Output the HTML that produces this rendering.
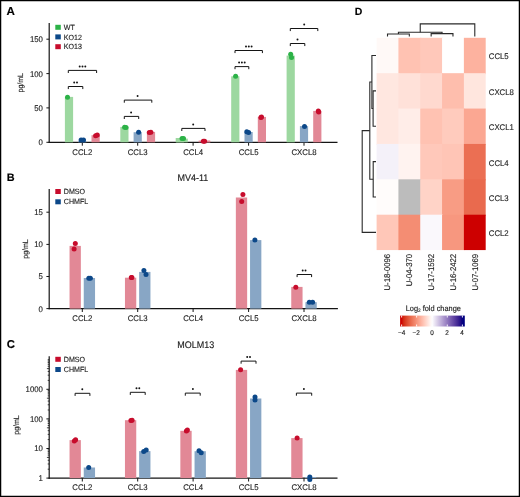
<!DOCTYPE html>
<html><head><meta charset="utf-8"><style>
html,body{margin:0;padding:0;background:#fff;}
body{width:520px;height:497px;overflow:hidden;font-family:"Liberation Sans", sans-serif;}
svg{display:block;will-change:transform;}
</style></head><body>
<svg width="520" height="497" viewBox="0 0 520 497" text-rendering="geometricPrecision" font-family='"Liberation Sans", sans-serif'>
<rect x="0.00" y="0.00" width="520.00" height="497.00" fill="#fff" />
<text transform="translate(6.60,14.80) scale(1.0000,1)" font-size="11.590" text-anchor="start" font-weight="bold" fill="#000" stroke="#000" stroke-width="0.14" >A</text>
<line x1="49.20" y1="23.00" x2="49.20" y2="142.90" stroke="#141414" stroke-width="1.2" />
<line x1="48.60" y1="142.30" x2="337.50" y2="142.30" stroke="#141414" stroke-width="1.3" />
<line x1="46.40" y1="142.30" x2="49.20" y2="142.30" stroke="#141414" stroke-width="1" />
<text transform="translate(42.90,145.26) scale(0.9434,1)" font-size="8.268" text-anchor="end" font-weight="normal" fill="#222" stroke="#222" stroke-width="0.14" >0</text>
<line x1="46.40" y1="107.90" x2="49.20" y2="107.90" stroke="#141414" stroke-width="1" />
<text transform="translate(42.90,110.86) scale(0.9434,1)" font-size="8.268" text-anchor="end" font-weight="normal" fill="#222" stroke="#222" stroke-width="0.14" >50</text>
<line x1="46.40" y1="73.60" x2="49.20" y2="73.60" stroke="#141414" stroke-width="1" />
<text transform="translate(42.90,76.56) scale(0.9434,1)" font-size="8.268" text-anchor="end" font-weight="normal" fill="#222" stroke="#222" stroke-width="0.14" >100</text>
<line x1="46.40" y1="39.20" x2="49.20" y2="39.20" stroke="#141414" stroke-width="1" />
<text transform="translate(42.90,42.16) scale(0.9434,1)" font-size="8.268" text-anchor="end" font-weight="normal" fill="#222" stroke="#222" stroke-width="0.14" >150</text>
<line x1="82.30" y1="142.30" x2="82.30" y2="145.70" stroke="#141414" stroke-width="1.0" />
<text transform="translate(82.30,154.66) scale(0.9434,1)" font-size="8.268" text-anchor="middle" font-weight="normal" fill="#222" stroke="#222" stroke-width="0.14" >CCL2</text>
<line x1="137.70" y1="142.30" x2="137.70" y2="145.70" stroke="#141414" stroke-width="1.0" />
<text transform="translate(137.70,154.66) scale(0.9434,1)" font-size="8.268" text-anchor="middle" font-weight="normal" fill="#222" stroke="#222" stroke-width="0.14" >CCL3</text>
<line x1="193.10" y1="142.30" x2="193.10" y2="145.70" stroke="#141414" stroke-width="1.0" />
<text transform="translate(193.10,154.66) scale(0.9434,1)" font-size="8.268" text-anchor="middle" font-weight="normal" fill="#222" stroke="#222" stroke-width="0.14" >CCL4</text>
<line x1="248.60" y1="142.30" x2="248.60" y2="145.70" stroke="#141414" stroke-width="1.0" />
<text transform="translate(248.60,154.66) scale(0.9434,1)" font-size="8.268" text-anchor="middle" font-weight="normal" fill="#222" stroke="#222" stroke-width="0.14" >CCL5</text>
<line x1="304.00" y1="142.30" x2="304.00" y2="145.70" stroke="#141414" stroke-width="1.0" />
<text transform="translate(304.00,154.66) scale(0.9434,1)" font-size="8.268" text-anchor="middle" font-weight="normal" fill="#222" stroke="#222" stroke-width="0.14" >CXCL8</text>
<text transform="translate(22.90,82.70) rotate(-90) scale(0.9091,1)" x="0" y="0" font-size="7.700" text-anchor="middle" fill="#222" stroke="#222" stroke-width="0.14">pg/mL</text>
<rect x="55.30" y="24.80" width="5.50" height="5.00" fill="#2cb247" />
<text transform="translate(63.80,29.99) scale(0.9434,1)" font-size="7.526" text-anchor="start" font-weight="normal" fill="#222" stroke="#222" stroke-width="0.14" >WT</text>
<rect x="55.30" y="34.40" width="5.50" height="5.00" fill="#0c4889" />
<text transform="translate(63.80,39.59) scale(0.9434,1)" font-size="7.526" text-anchor="start" font-weight="normal" fill="#222" stroke="#222" stroke-width="0.14" >KO12</text>
<rect x="55.30" y="44.20" width="5.50" height="5.00" fill="#c70c2c" />
<text transform="translate(63.80,49.39) scale(0.9434,1)" font-size="7.526" text-anchor="start" font-weight="normal" fill="#222" stroke="#222" stroke-width="0.14" >KO13</text>
<rect x="64.90" y="96.90" width="8.20" height="45.40" fill="#9dd8a0" />
<rect x="78.20" y="141.00" width="8.20" height="1.30" fill="#88a6c5" />
<rect x="91.50" y="135.20" width="8.20" height="7.10" fill="#e28896" />
<rect x="120.30" y="126.90" width="8.20" height="15.40" fill="#9dd8a0" />
<rect x="133.60" y="132.20" width="8.20" height="10.10" fill="#88a6c5" />
<rect x="146.90" y="131.90" width="8.20" height="10.40" fill="#e28896" />
<rect x="175.70" y="138.00" width="8.20" height="4.30" fill="#9dd8a0" />
<rect x="202.30" y="140.80" width="8.20" height="1.50" fill="#e28896" />
<rect x="231.20" y="76.30" width="8.20" height="66.00" fill="#9dd8a0" />
<rect x="244.50" y="132.00" width="8.20" height="10.30" fill="#88a6c5" />
<rect x="257.80" y="116.90" width="8.20" height="25.40" fill="#e28896" />
<rect x="286.60" y="55.60" width="8.20" height="86.70" fill="#9dd8a0" />
<rect x="299.90" y="126.10" width="8.20" height="16.20" fill="#88a6c5" />
<rect x="313.20" y="110.90" width="8.20" height="31.40" fill="#e28896" />
<rect x="176.20" y="138.60" width="11.60" height="3.70" fill="#9dd8a0" />
<rect x="198.60" y="140.60" width="11.40" height="1.70" fill="#e28896" />
<circle cx="67.50" cy="97.20" r="2.5" fill="#2cb247"/>
<circle cx="81.10" cy="140.00" r="2.5" fill="#0c4889"/>
<circle cx="83.50" cy="140.00" r="2.5" fill="#0c4889"/>
<circle cx="95.60" cy="135.70" r="2.5" fill="#c70c2c"/>
<circle cx="97.30" cy="134.90" r="2.5" fill="#c70c2c"/>
<circle cx="124.60" cy="127.30" r="2.5" fill="#2cb247"/>
<circle cx="126.00" cy="127.40" r="2.5" fill="#2cb247"/>
<circle cx="138.60" cy="132.30" r="2.5" fill="#0c4889"/>
<circle cx="149.30" cy="132.40" r="2.5" fill="#c70c2c"/>
<circle cx="150.90" cy="132.20" r="2.5" fill="#c70c2c"/>
<circle cx="182.00" cy="138.50" r="2.5" fill="#2cb247"/>
<circle cx="183.50" cy="138.50" r="2.5" fill="#2cb247"/>
<circle cx="203.30" cy="141.30" r="2.5" fill="#c70c2c"/>
<circle cx="204.60" cy="141.30" r="2.5" fill="#c70c2c"/>
<circle cx="235.60" cy="76.30" r="2.5" fill="#2cb247"/>
<circle cx="246.80" cy="131.80" r="2.5" fill="#0c4889"/>
<circle cx="248.60" cy="132.40" r="2.5" fill="#0c4889"/>
<circle cx="260.90" cy="117.40" r="2.5" fill="#c70c2c"/>
<circle cx="261.50" cy="117.10" r="2.5" fill="#c70c2c"/>
<circle cx="290.70" cy="54.30" r="2.5" fill="#2cb247"/>
<circle cx="291.50" cy="57.60" r="2.5" fill="#2cb247"/>
<circle cx="304.50" cy="126.50" r="2.5" fill="#0c4889"/>
<circle cx="318.30" cy="111.10" r="2.5" fill="#c70c2c"/>
<circle cx="318.70" cy="112.10" r="2.5" fill="#c70c2c"/>
<path d="M68.30,88.70 V86.50 H82.80 V88.70" fill="none" stroke="#141414" stroke-width="1" stroke-linejoin="round" stroke-linecap="round"/>
<circle cx="74.20" cy="82.50" r="0.98" fill="#141414"/>
<circle cx="77.00" cy="82.50" r="0.98" fill="#141414"/>
<path d="M68.30,72.60 V70.40 H96.60 V72.60" fill="none" stroke="#141414" stroke-width="1" stroke-linejoin="round" stroke-linecap="round"/>
<circle cx="79.70" cy="66.40" r="0.98" fill="#141414"/>
<circle cx="82.50" cy="66.40" r="0.98" fill="#141414"/>
<circle cx="85.30" cy="66.40" r="0.98" fill="#141414"/>
<path d="M124.30,118.60 V116.40 H138.70 V118.60" fill="none" stroke="#141414" stroke-width="1" stroke-linejoin="round" stroke-linecap="round"/>
<circle cx="131.10" cy="112.40" r="0.98" fill="#141414"/>
<path d="M124.30,102.30 V100.10 H151.80 V102.30" fill="none" stroke="#141414" stroke-width="1" stroke-linejoin="round" stroke-linecap="round"/>
<circle cx="137.60" cy="96.10" r="0.98" fill="#141414"/>
<path d="M181.80,130.60 V128.40 H205.00 V130.60" fill="none" stroke="#141414" stroke-width="1" stroke-linejoin="round" stroke-linecap="round"/>
<circle cx="193.20" cy="124.40" r="0.98" fill="#141414"/>
<path d="M235.00,68.80 V66.60 H248.80 V68.80" fill="none" stroke="#141414" stroke-width="1" stroke-linejoin="round" stroke-linecap="round"/>
<circle cx="239.10" cy="62.60" r="0.98" fill="#141414"/>
<circle cx="241.90" cy="62.60" r="0.98" fill="#141414"/>
<circle cx="244.70" cy="62.60" r="0.98" fill="#141414"/>
<path d="M235.00,52.70 V50.50 H262.40 V52.70" fill="none" stroke="#141414" stroke-width="1" stroke-linejoin="round" stroke-linecap="round"/>
<circle cx="246.00" cy="46.50" r="0.98" fill="#141414"/>
<circle cx="248.80" cy="46.50" r="0.98" fill="#141414"/>
<circle cx="251.60" cy="46.50" r="0.98" fill="#141414"/>
<path d="M290.30,45.70 V43.50 H304.80 V45.70" fill="none" stroke="#141414" stroke-width="1" stroke-linejoin="round" stroke-linecap="round"/>
<circle cx="297.50" cy="39.50" r="0.98" fill="#141414"/>
<path d="M290.30,30.70 V28.50 H317.80 V30.70" fill="none" stroke="#141414" stroke-width="1" stroke-linejoin="round" stroke-linecap="round"/>
<circle cx="304.20" cy="24.50" r="0.98" fill="#141414"/>
<text transform="translate(6.80,181.00) scale(1.0000,1)" font-size="10.890" text-anchor="start" font-weight="bold" fill="#000" stroke="#000" stroke-width="0.14" >B</text>
<line x1="49.20" y1="189.10" x2="49.20" y2="309.20" stroke="#141414" stroke-width="1.2" />
<line x1="48.60" y1="308.60" x2="337.90" y2="308.60" stroke="#141414" stroke-width="1.3" />
<line x1="46.40" y1="308.60" x2="49.20" y2="308.60" stroke="#141414" stroke-width="1" />
<text transform="translate(42.90,311.56) scale(0.9434,1)" font-size="8.268" text-anchor="end" font-weight="normal" fill="#222" stroke="#222" stroke-width="0.14" >0</text>
<line x1="46.40" y1="276.50" x2="49.20" y2="276.50" stroke="#141414" stroke-width="1" />
<text transform="translate(42.90,279.46) scale(0.9434,1)" font-size="8.268" text-anchor="end" font-weight="normal" fill="#222" stroke="#222" stroke-width="0.14" >5</text>
<line x1="46.40" y1="244.40" x2="49.20" y2="244.40" stroke="#141414" stroke-width="1" />
<text transform="translate(42.90,247.36) scale(0.9434,1)" font-size="8.268" text-anchor="end" font-weight="normal" fill="#222" stroke="#222" stroke-width="0.14" >10</text>
<line x1="46.40" y1="212.20" x2="49.20" y2="212.20" stroke="#141414" stroke-width="1" />
<text transform="translate(42.90,215.16) scale(0.9434,1)" font-size="8.268" text-anchor="end" font-weight="normal" fill="#222" stroke="#222" stroke-width="0.14" >15</text>
<line x1="82.30" y1="308.60" x2="82.30" y2="312.00" stroke="#141414" stroke-width="1.0" />
<text transform="translate(82.30,320.96) scale(0.9434,1)" font-size="8.268" text-anchor="middle" font-weight="normal" fill="#222" stroke="#222" stroke-width="0.14" >CCL2</text>
<line x1="137.70" y1="308.60" x2="137.70" y2="312.00" stroke="#141414" stroke-width="1.0" />
<text transform="translate(137.70,320.96) scale(0.9434,1)" font-size="8.268" text-anchor="middle" font-weight="normal" fill="#222" stroke="#222" stroke-width="0.14" >CCL3</text>
<line x1="193.10" y1="308.60" x2="193.10" y2="312.00" stroke="#141414" stroke-width="1.0" />
<text transform="translate(193.10,320.96) scale(0.9434,1)" font-size="8.268" text-anchor="middle" font-weight="normal" fill="#222" stroke="#222" stroke-width="0.14" >CCL4</text>
<line x1="248.60" y1="308.60" x2="248.60" y2="312.00" stroke="#141414" stroke-width="1.0" />
<text transform="translate(248.60,320.96) scale(0.9434,1)" font-size="8.268" text-anchor="middle" font-weight="normal" fill="#222" stroke="#222" stroke-width="0.14" >CCL5</text>
<line x1="304.00" y1="308.60" x2="304.00" y2="312.00" stroke="#141414" stroke-width="1.0" />
<text transform="translate(304.00,320.96) scale(0.9434,1)" font-size="8.268" text-anchor="middle" font-weight="normal" fill="#222" stroke="#222" stroke-width="0.14" >CXCL8</text>
<text transform="translate(27.50,249.00) rotate(-90) scale(0.9091,1)" x="0" y="0" font-size="7.700" text-anchor="middle" fill="#222" stroke="#222" stroke-width="0.14">pg/mL</text>
<rect x="55.30" y="189.00" width="5.50" height="5.00" fill="#c70c2c" />
<text transform="translate(63.80,194.19) scale(0.9434,1)" font-size="7.526" text-anchor="start" font-weight="normal" fill="#222" stroke="#222" stroke-width="0.14" >DMSO</text>
<rect x="55.30" y="199.30" width="5.50" height="5.00" fill="#0c4889" />
<text transform="translate(63.80,204.49) scale(0.9434,1)" font-size="7.526" text-anchor="start" font-weight="normal" fill="#222" stroke="#222" stroke-width="0.14" >CHMFL</text>
<text transform="translate(177.40,181.12) scale(0.9434,1)" font-size="9.540" text-anchor="start" font-weight="normal" fill="#1a1a1a" stroke="#1a1a1a" stroke-width="0.14" >MV4-11</text>
<rect x="69.55" y="245.90" width="11.30" height="62.70" fill="#e28896" />
<rect x="83.75" y="278.00" width="11.30" height="30.60" fill="#88a6c5" />
<rect x="124.95" y="277.70" width="11.30" height="30.90" fill="#e28896" />
<rect x="139.15" y="271.90" width="11.30" height="36.70" fill="#88a6c5" />
<rect x="235.85" y="197.50" width="11.30" height="111.10" fill="#e28896" />
<rect x="250.05" y="240.10" width="11.30" height="68.50" fill="#88a6c5" />
<rect x="291.25" y="286.90" width="11.30" height="21.70" fill="#e28896" />
<rect x="305.45" y="302.20" width="11.30" height="6.40" fill="#88a6c5" />
<circle cx="75.30" cy="243.60" r="2.5" fill="#c70c2c"/>
<circle cx="74.10" cy="248.90" r="2.5" fill="#c70c2c"/>
<circle cx="88.80" cy="278.30" r="2.5" fill="#0c4889"/>
<circle cx="90.40" cy="278.30" r="2.5" fill="#0c4889"/>
<circle cx="131.30" cy="277.40" r="2.5" fill="#c70c2c"/>
<circle cx="131.90" cy="277.40" r="2.5" fill="#c70c2c"/>
<circle cx="143.90" cy="270.60" r="2.5" fill="#0c4889"/>
<circle cx="146.00" cy="274.40" r="2.5" fill="#0c4889"/>
<circle cx="242.90" cy="194.40" r="2.5" fill="#c70c2c"/>
<circle cx="241.70" cy="201.50" r="2.5" fill="#c70c2c"/>
<circle cx="254.90" cy="240.10" r="2.5" fill="#0c4889"/>
<circle cx="295.80" cy="287.20" r="2.5" fill="#c70c2c"/>
<circle cx="309.30" cy="302.20" r="2.5" fill="#0c4889"/>
<circle cx="312.60" cy="302.20" r="2.5" fill="#0c4889"/>
<path d="M297.10,276.70 V274.50 H311.60 V276.70" fill="none" stroke="#141414" stroke-width="1" stroke-linejoin="round" stroke-linecap="round"/>
<circle cx="302.70" cy="270.50" r="0.98" fill="#141414"/>
<circle cx="305.50" cy="270.50" r="0.98" fill="#141414"/>
<text transform="translate(6.80,348.40) scale(1.0000,1)" font-size="11.310" text-anchor="start" font-weight="bold" fill="#000" stroke="#000" stroke-width="0.14" >C</text>
<line x1="49.20" y1="356.20" x2="49.20" y2="478.70" stroke="#141414" stroke-width="1.2" />
<line x1="48.60" y1="478.10" x2="337.50" y2="478.10" stroke="#141414" stroke-width="1.3" />
<line x1="46.40" y1="478.10" x2="49.20" y2="478.10" stroke="#141414" stroke-width="1" />
<text transform="translate(42.90,481.06) scale(0.9434,1)" font-size="8.268" text-anchor="end" font-weight="normal" fill="#222" stroke="#222" stroke-width="0.14" >1</text>
<line x1="46.40" y1="448.50" x2="49.20" y2="448.50" stroke="#141414" stroke-width="1" />
<text transform="translate(42.90,451.46) scale(0.9434,1)" font-size="8.268" text-anchor="end" font-weight="normal" fill="#222" stroke="#222" stroke-width="0.14" >10</text>
<line x1="46.40" y1="418.90" x2="49.20" y2="418.90" stroke="#141414" stroke-width="1" />
<text transform="translate(42.90,421.86) scale(0.9434,1)" font-size="8.268" text-anchor="end" font-weight="normal" fill="#222" stroke="#222" stroke-width="0.14" >100</text>
<line x1="46.40" y1="389.30" x2="49.20" y2="389.30" stroke="#141414" stroke-width="1" />
<text transform="translate(42.90,392.26) scale(0.9434,1)" font-size="8.268" text-anchor="end" font-weight="normal" fill="#222" stroke="#222" stroke-width="0.14" >1000</text>
<line x1="47.70" y1="469.19" x2="49.20" y2="469.19" stroke="#141414" stroke-width="0.8" />
<line x1="47.70" y1="463.98" x2="49.20" y2="463.98" stroke="#141414" stroke-width="0.8" />
<line x1="47.70" y1="460.28" x2="49.20" y2="460.28" stroke="#141414" stroke-width="0.8" />
<line x1="46.90" y1="457.41" x2="49.20" y2="457.41" stroke="#141414" stroke-width="0.8" />
<line x1="47.70" y1="455.07" x2="49.20" y2="455.07" stroke="#141414" stroke-width="0.8" />
<line x1="47.70" y1="453.09" x2="49.20" y2="453.09" stroke="#141414" stroke-width="0.8" />
<line x1="47.70" y1="451.37" x2="49.20" y2="451.37" stroke="#141414" stroke-width="0.8" />
<line x1="47.70" y1="449.85" x2="49.20" y2="449.85" stroke="#141414" stroke-width="0.8" />
<line x1="47.70" y1="439.59" x2="49.20" y2="439.59" stroke="#141414" stroke-width="0.8" />
<line x1="47.70" y1="434.38" x2="49.20" y2="434.38" stroke="#141414" stroke-width="0.8" />
<line x1="47.70" y1="430.68" x2="49.20" y2="430.68" stroke="#141414" stroke-width="0.8" />
<line x1="46.90" y1="427.81" x2="49.20" y2="427.81" stroke="#141414" stroke-width="0.8" />
<line x1="47.70" y1="425.47" x2="49.20" y2="425.47" stroke="#141414" stroke-width="0.8" />
<line x1="47.70" y1="423.49" x2="49.20" y2="423.49" stroke="#141414" stroke-width="0.8" />
<line x1="47.70" y1="421.77" x2="49.20" y2="421.77" stroke="#141414" stroke-width="0.8" />
<line x1="47.70" y1="420.25" x2="49.20" y2="420.25" stroke="#141414" stroke-width="0.8" />
<line x1="47.70" y1="409.99" x2="49.20" y2="409.99" stroke="#141414" stroke-width="0.8" />
<line x1="47.70" y1="404.78" x2="49.20" y2="404.78" stroke="#141414" stroke-width="0.8" />
<line x1="47.70" y1="401.08" x2="49.20" y2="401.08" stroke="#141414" stroke-width="0.8" />
<line x1="46.90" y1="398.21" x2="49.20" y2="398.21" stroke="#141414" stroke-width="0.8" />
<line x1="47.70" y1="395.87" x2="49.20" y2="395.87" stroke="#141414" stroke-width="0.8" />
<line x1="47.70" y1="393.89" x2="49.20" y2="393.89" stroke="#141414" stroke-width="0.8" />
<line x1="47.70" y1="392.17" x2="49.20" y2="392.17" stroke="#141414" stroke-width="0.8" />
<line x1="47.70" y1="390.65" x2="49.20" y2="390.65" stroke="#141414" stroke-width="0.8" />
<line x1="47.70" y1="380.39" x2="49.20" y2="380.39" stroke="#141414" stroke-width="0.8" />
<line x1="47.70" y1="375.18" x2="49.20" y2="375.18" stroke="#141414" stroke-width="0.8" />
<line x1="47.70" y1="371.48" x2="49.20" y2="371.48" stroke="#141414" stroke-width="0.8" />
<line x1="46.90" y1="368.61" x2="49.20" y2="368.61" stroke="#141414" stroke-width="0.8" />
<line x1="47.70" y1="366.27" x2="49.20" y2="366.27" stroke="#141414" stroke-width="0.8" />
<line x1="47.70" y1="364.29" x2="49.20" y2="364.29" stroke="#141414" stroke-width="0.8" />
<line x1="47.70" y1="362.57" x2="49.20" y2="362.57" stroke="#141414" stroke-width="0.8" />
<line x1="47.70" y1="361.05" x2="49.20" y2="361.05" stroke="#141414" stroke-width="0.8" />
<line x1="47.70" y1="359.70" x2="49.20" y2="359.70" stroke="#141414" stroke-width="0.8" />
<line x1="82.30" y1="478.10" x2="82.30" y2="481.50" stroke="#141414" stroke-width="1.0" />
<text transform="translate(82.30,490.46) scale(0.9434,1)" font-size="8.268" text-anchor="middle" font-weight="normal" fill="#222" stroke="#222" stroke-width="0.14" >CCL2</text>
<line x1="137.70" y1="478.10" x2="137.70" y2="481.50" stroke="#141414" stroke-width="1.0" />
<text transform="translate(137.70,490.46) scale(0.9434,1)" font-size="8.268" text-anchor="middle" font-weight="normal" fill="#222" stroke="#222" stroke-width="0.14" >CCL3</text>
<line x1="193.10" y1="478.10" x2="193.10" y2="481.50" stroke="#141414" stroke-width="1.0" />
<text transform="translate(193.10,490.46) scale(0.9434,1)" font-size="8.268" text-anchor="middle" font-weight="normal" fill="#222" stroke="#222" stroke-width="0.14" >CCL4</text>
<line x1="248.60" y1="478.10" x2="248.60" y2="481.50" stroke="#141414" stroke-width="1.0" />
<text transform="translate(248.60,490.46) scale(0.9434,1)" font-size="8.268" text-anchor="middle" font-weight="normal" fill="#222" stroke="#222" stroke-width="0.14" >CCL5</text>
<line x1="304.00" y1="478.10" x2="304.00" y2="481.50" stroke="#141414" stroke-width="1.0" />
<text transform="translate(304.00,490.46) scale(0.9434,1)" font-size="8.268" text-anchor="middle" font-weight="normal" fill="#222" stroke="#222" stroke-width="0.14" >CXCL8</text>
<text transform="translate(19.10,425.00) rotate(-90) scale(0.9091,1)" x="0" y="0" font-size="7.700" text-anchor="middle" fill="#222" stroke="#222" stroke-width="0.14">pg/mL</text>
<rect x="55.30" y="356.80" width="5.50" height="5.00" fill="#c70c2c" />
<text transform="translate(63.80,361.99) scale(0.9434,1)" font-size="7.526" text-anchor="start" font-weight="normal" fill="#222" stroke="#222" stroke-width="0.14" >DMSO</text>
<rect x="55.30" y="367.00" width="5.50" height="5.00" fill="#0c4889" />
<text transform="translate(63.80,372.19) scale(0.9434,1)" font-size="7.526" text-anchor="start" font-weight="normal" fill="#222" stroke="#222" stroke-width="0.14" >CHMFL</text>
<text transform="translate(177.20,348.22) scale(0.9434,1)" font-size="9.540" text-anchor="start" font-weight="normal" fill="#1a1a1a" stroke="#1a1a1a" stroke-width="0.14" >MOLM13</text>
<rect x="69.55" y="440.10" width="11.30" height="38.00" fill="#e28896" />
<rect x="83.75" y="467.50" width="11.30" height="10.60" fill="#88a6c5" />
<rect x="124.95" y="420.20" width="11.30" height="57.90" fill="#e28896" />
<rect x="139.15" y="451.10" width="11.30" height="27.00" fill="#88a6c5" />
<rect x="180.35" y="430.80" width="11.30" height="47.30" fill="#e28896" />
<rect x="194.55" y="451.20" width="11.30" height="26.90" fill="#88a6c5" />
<rect x="235.85" y="369.90" width="11.30" height="108.20" fill="#e28896" />
<rect x="250.05" y="398.50" width="11.30" height="79.60" fill="#88a6c5" />
<rect x="291.25" y="438.10" width="11.30" height="40.00" fill="#e28896" />
<rect x="304.90" y="477.00" width="11.30" height="1.00" fill="#88a6c5" />
<circle cx="74.30" cy="441.00" r="2.5" fill="#c70c2c"/>
<circle cx="75.60" cy="439.80" r="2.5" fill="#c70c2c"/>
<circle cx="88.70" cy="467.40" r="2.5" fill="#0c4889"/>
<circle cx="130.90" cy="420.60" r="2.5" fill="#c70c2c"/>
<circle cx="132.10" cy="420.30" r="2.5" fill="#c70c2c"/>
<circle cx="143.70" cy="451.60" r="2.5" fill="#0c4889"/>
<circle cx="146.20" cy="450.10" r="2.5" fill="#0c4889"/>
<circle cx="186.40" cy="431.00" r="2.5" fill="#c70c2c"/>
<circle cx="187.40" cy="430.00" r="2.5" fill="#c70c2c"/>
<circle cx="199.00" cy="450.70" r="2.5" fill="#0c4889"/>
<circle cx="201.20" cy="452.70" r="2.5" fill="#0c4889"/>
<circle cx="240.60" cy="369.80" r="2.5" fill="#c70c2c"/>
<circle cx="255.00" cy="396.90" r="2.5" fill="#0c4889"/>
<circle cx="255.00" cy="400.00" r="2.5" fill="#0c4889"/>
<circle cx="297.10" cy="438.10" r="2.5" fill="#c70c2c"/>
<circle cx="309.80" cy="477.00" r="2.5" fill="#0c4889"/>
<circle cx="309.80" cy="479.60" r="2.5" fill="#0c4889"/>
<path d="M75.10,395.50 V393.30 H89.90 V395.50" fill="none" stroke="#141414" stroke-width="1" stroke-linejoin="round" stroke-linecap="round"/>
<circle cx="82.30" cy="389.30" r="0.98" fill="#141414"/>
<path d="M130.30,394.50 V392.30 H145.20 V394.50" fill="none" stroke="#141414" stroke-width="1" stroke-linejoin="round" stroke-linecap="round"/>
<circle cx="136.50" cy="388.30" r="0.98" fill="#141414"/>
<circle cx="139.30" cy="388.30" r="0.98" fill="#141414"/>
<path d="M185.30,395.30 V393.10 H200.20 V395.30" fill="none" stroke="#141414" stroke-width="1" stroke-linejoin="round" stroke-linecap="round"/>
<circle cx="192.90" cy="389.10" r="0.98" fill="#141414"/>
<path d="M241.10,363.30 V361.10 H256.00 V363.30" fill="none" stroke="#141414" stroke-width="1" stroke-linejoin="round" stroke-linecap="round"/>
<circle cx="247.20" cy="357.10" r="0.98" fill="#141414"/>
<circle cx="250.00" cy="357.10" r="0.98" fill="#141414"/>
<path d="M296.40,395.30 V393.10 H311.70 V395.30" fill="none" stroke="#141414" stroke-width="1" stroke-linejoin="round" stroke-linecap="round"/>
<circle cx="303.90" cy="389.10" r="0.98" fill="#141414"/>
<text transform="translate(354.80,14.80) scale(1.0000,1)" font-size="10.470" text-anchor="start" font-weight="bold" fill="#000" stroke="#000" stroke-width="0.14" >D</text>
<rect x="376.60" y="37.80" width="22.82" height="36.38" fill="#fff9f7" />
<rect x="398.42" y="37.80" width="22.82" height="36.38" fill="#ffc2b2" />
<rect x="420.24" y="37.80" width="22.82" height="36.38" fill="#ffc8ba" />
<rect x="442.06" y="37.80" width="22.82" height="36.38" fill="#ffffff" />
<rect x="463.88" y="37.80" width="21.82" height="36.38" fill="#fdb29f" />
<rect x="376.60" y="73.18" width="22.82" height="36.38" fill="#ffe7e0" />
<rect x="398.42" y="73.18" width="22.82" height="36.38" fill="#ffe1d9" />
<rect x="420.24" y="73.18" width="22.82" height="36.38" fill="#ffd9cf" />
<rect x="442.06" y="73.18" width="22.82" height="36.38" fill="#febead" />
<rect x="463.88" y="73.18" width="21.82" height="36.38" fill="#ffe6de" />
<rect x="376.60" y="108.56" width="22.82" height="36.38" fill="#ffe7e0" />
<rect x="398.42" y="108.56" width="22.82" height="36.38" fill="#ffede8" />
<rect x="420.24" y="108.56" width="22.82" height="36.38" fill="#ffc2b2" />
<rect x="442.06" y="108.56" width="22.82" height="36.38" fill="#ffcbbd" />
<rect x="463.88" y="108.56" width="21.82" height="36.38" fill="#fba792" />
<rect x="376.60" y="143.94" width="22.82" height="36.38" fill="#f4f1f9" />
<rect x="398.42" y="143.94" width="22.82" height="36.38" fill="#fff3f0" />
<rect x="420.24" y="143.94" width="22.82" height="36.38" fill="#ffc8ba" />
<rect x="442.06" y="143.94" width="22.82" height="36.38" fill="#ffc5b6" />
<rect x="463.88" y="143.94" width="21.82" height="36.38" fill="#eb6f53" />
<rect x="376.60" y="179.32" width="22.82" height="36.38" fill="#fffcfb" />
<rect x="398.42" y="179.32" width="22.82" height="36.38" fill="#bcbcbc" />
<rect x="420.24" y="179.32" width="22.82" height="36.38" fill="#ffd3c7" />
<rect x="442.06" y="179.32" width="22.82" height="36.38" fill="#f89c84" />
<rect x="463.88" y="179.32" width="21.82" height="36.38" fill="#e96a4e" />
<rect x="376.60" y="214.70" width="22.82" height="35.38" fill="#ffc7b8" />
<rect x="398.42" y="214.70" width="22.82" height="35.38" fill="#f48d73" />
<rect x="420.24" y="214.70" width="22.82" height="35.38" fill="#faf8fc" />
<rect x="442.06" y="214.70" width="22.82" height="35.38" fill="#f7977f" />
<rect x="463.88" y="214.70" width="21.82" height="35.38" fill="#cd0000" />
<text transform="translate(488.80,59.45) scale(0.9434,1)" font-size="8.268" text-anchor="start" font-weight="normal" fill="#222" stroke="#222" stroke-width="0.14" >CCL5</text>
<text transform="translate(488.80,94.83) scale(0.9434,1)" font-size="8.268" text-anchor="start" font-weight="normal" fill="#222" stroke="#222" stroke-width="0.14" >CXCL8</text>
<text transform="translate(488.80,130.21) scale(0.9434,1)" font-size="8.268" text-anchor="start" font-weight="normal" fill="#222" stroke="#222" stroke-width="0.14" >CXCL1</text>
<text transform="translate(488.80,165.59) scale(0.9434,1)" font-size="8.268" text-anchor="start" font-weight="normal" fill="#222" stroke="#222" stroke-width="0.14" >CCL4</text>
<text transform="translate(488.80,200.97) scale(0.9434,1)" font-size="8.268" text-anchor="start" font-weight="normal" fill="#222" stroke="#222" stroke-width="0.14" >CCL3</text>
<text transform="translate(488.80,236.35) scale(0.9434,1)" font-size="8.268" text-anchor="start" font-weight="normal" fill="#222" stroke="#222" stroke-width="0.14" >CCL2</text>
<text transform="translate(390.47,253.8) rotate(-90) scale(0.9434,1)" x="0" y="0" font-size="8.268" text-anchor="end" fill="#222" stroke="#222" stroke-width="0.14">U-18-0096</text>
<text transform="translate(412.29,253.8) rotate(-90) scale(0.9434,1)" x="0" y="0" font-size="8.268" text-anchor="end" fill="#222" stroke="#222" stroke-width="0.14">U-04-370</text>
<text transform="translate(434.11,253.8) rotate(-90) scale(0.9434,1)" x="0" y="0" font-size="8.268" text-anchor="end" fill="#222" stroke="#222" stroke-width="0.14">U-17-1592</text>
<text transform="translate(455.93,253.8) rotate(-90) scale(0.9434,1)" x="0" y="0" font-size="8.268" text-anchor="end" fill="#222" stroke="#222" stroke-width="0.14">U-16-2422</text>
<text transform="translate(477.75,253.8) rotate(-90) scale(0.9434,1)" x="0" y="0" font-size="8.268" text-anchor="end" fill="#222" stroke="#222" stroke-width="0.14">U-07-1069</text>
<path d="M387.51,36.6 V34.0 H409.33 V36.6" fill="none" stroke="#2a2a2a" stroke-width="1.1" stroke-linejoin="miter" stroke-linecap="butt"/>
<path d="M431.15,36.6 V33.6 H452.97 V36.6" fill="none" stroke="#2a2a2a" stroke-width="1.1" stroke-linejoin="miter" stroke-linecap="butt"/>
<path d="M398.42,34.0 V32.2 H442.06 V33.6" fill="none" stroke="#2a2a2a" stroke-width="1.1" stroke-linejoin="miter" stroke-linecap="butt"/>
<path d="M420.24,32.2 V23.9 H474.79 V36.6" fill="none" stroke="#2a2a2a" stroke-width="1.1" stroke-linejoin="miter" stroke-linecap="butt"/>
<path d="M376.0,90.87 H373.1 V126.25 H376.0" fill="none" stroke="#2a2a2a" stroke-width="1.1" stroke-linejoin="miter" stroke-linecap="butt"/>
<path d="M376.0,161.63 H373.2 V197.01 H376.0" fill="none" stroke="#2a2a2a" stroke-width="1.1" stroke-linejoin="miter" stroke-linecap="butt"/>
<path d="M376.0,55.49 H371.9 V108.56 H373.1" fill="none" stroke="#2a2a2a" stroke-width="1.1" stroke-linejoin="miter" stroke-linecap="butt"/>
<path d="M371.9,82.03 H369.8 V179.32 H373.2" fill="none" stroke="#2a2a2a" stroke-width="1.1" stroke-linejoin="miter" stroke-linecap="butt"/>
<path d="M369.8,130.67 H362.2 V232.39 H376.0" fill="none" stroke="#2a2a2a" stroke-width="1.1" stroke-linejoin="miter" stroke-linecap="butt"/>
<text transform="translate(433.30,310.51) scale(0.9434,1)" font-size="7.844" text-anchor="middle" font-weight="normal" fill="#1a1a1a" stroke="#1a1a1a" stroke-width="0.14" >Log<tspan font-size="5" dy="1.6">2</tspan><tspan dy="-1.6"> fold change</tspan></text>
<defs><linearGradient id="cb" x1="0" x2="1" y1="0" y2="0"><stop offset="0.000" stop-color="#cd0000"/><stop offset="0.025" stop-color="#cd0401"/><stop offset="0.050" stop-color="#d32612"/><stop offset="0.075" stop-color="#d83920"/><stop offset="0.100" stop-color="#dd482d"/><stop offset="0.125" stop-color="#e25639"/><stop offset="0.150" stop-color="#e76346"/><stop offset="0.175" stop-color="#eb6f52"/><stop offset="0.200" stop-color="#ef7b5f"/><stop offset="0.225" stop-color="#f2876c"/><stop offset="0.250" stop-color="#f69279"/><stop offset="0.275" stop-color="#f89e86"/><stop offset="0.300" stop-color="#fba994"/><stop offset="0.325" stop-color="#fdb4a1"/><stop offset="0.350" stop-color="#ffbfaf"/><stop offset="0.375" stop-color="#ffcbbd"/><stop offset="0.400" stop-color="#ffd6cb"/><stop offset="0.425" stop-color="#ffe1d9"/><stop offset="0.450" stop-color="#ffede7"/><stop offset="0.475" stop-color="#fff8f6"/><stop offset="0.500" stop-color="#fbfafd"/><stop offset="0.525" stop-color="#efebf6"/><stop offset="0.550" stop-color="#e4dcef"/><stop offset="0.575" stop-color="#d9cee8"/><stop offset="0.600" stop-color="#cdc0e2"/><stop offset="0.625" stop-color="#c2b2db"/><stop offset="0.650" stop-color="#b7a4d4"/><stop offset="0.675" stop-color="#ab96cd"/><stop offset="0.700" stop-color="#a089c7"/><stop offset="0.725" stop-color="#947bc0"/><stop offset="0.750" stop-color="#886eb9"/><stop offset="0.775" stop-color="#7c61b2"/><stop offset="0.800" stop-color="#7054ab"/><stop offset="0.825" stop-color="#6447a5"/><stop offset="0.850" stop-color="#573b9e"/><stop offset="0.875" stop-color="#492e97"/><stop offset="0.900" stop-color="#3b2190"/><stop offset="0.925" stop-color="#291489"/><stop offset="0.950" stop-color="#100482"/><stop offset="0.975" stop-color="#000080"/><stop offset="1.000" stop-color="#000080"/></linearGradient></defs>
<rect x="400.10" y="315.60" width="64.70" height="10.90" fill="url(#cb)" />
<line x1="401.60" y1="315.60" x2="401.60" y2="317.60" stroke="#fff" stroke-width="1.1" stroke-opacity="0.85"/>
<line x1="401.60" y1="324.50" x2="401.60" y2="326.50" stroke="#fff" stroke-width="1.1" stroke-opacity="0.85"/>
<line x1="416.60" y1="315.60" x2="416.60" y2="317.60" stroke="#fff" stroke-width="1.1" stroke-opacity="0.85"/>
<line x1="416.60" y1="324.50" x2="416.60" y2="326.50" stroke="#fff" stroke-width="1.1" stroke-opacity="0.85"/>
<line x1="432.10" y1="315.60" x2="432.10" y2="317.60" stroke="#fff" stroke-width="1.1" stroke-opacity="0.85"/>
<line x1="432.10" y1="324.50" x2="432.10" y2="326.50" stroke="#fff" stroke-width="1.1" stroke-opacity="0.85"/>
<line x1="447.30" y1="315.60" x2="447.30" y2="317.60" stroke="#fff" stroke-width="1.1" stroke-opacity="0.85"/>
<line x1="447.30" y1="324.50" x2="447.30" y2="326.50" stroke="#fff" stroke-width="1.1" stroke-opacity="0.85"/>
<line x1="462.40" y1="315.60" x2="462.40" y2="317.60" stroke="#fff" stroke-width="1.1" stroke-opacity="0.85"/>
<line x1="462.40" y1="324.50" x2="462.40" y2="326.50" stroke="#fff" stroke-width="1.1" stroke-opacity="0.85"/>
<text transform="translate(401.60,335.03) scale(0.9434,1)" font-size="6.784" text-anchor="middle" font-weight="normal" fill="#1a1a1a" stroke="#1a1a1a" stroke-width="0.14" >−4</text>
<text transform="translate(416.10,335.03) scale(0.9434,1)" font-size="6.784" text-anchor="middle" font-weight="normal" fill="#1a1a1a" stroke="#1a1a1a" stroke-width="0.14" >−2</text>
<text transform="translate(432.10,335.03) scale(0.9434,1)" font-size="6.784" text-anchor="middle" font-weight="normal" fill="#1a1a1a" stroke="#1a1a1a" stroke-width="0.14" >0</text>
<text transform="translate(447.10,335.03) scale(0.9434,1)" font-size="6.784" text-anchor="middle" font-weight="normal" fill="#1a1a1a" stroke="#1a1a1a" stroke-width="0.14" >2</text>
<text transform="translate(462.10,335.03) scale(0.9434,1)" font-size="6.784" text-anchor="middle" font-weight="normal" fill="#1a1a1a" stroke="#1a1a1a" stroke-width="0.14" >4</text>
<rect x="0.6" y="0.6" width="518.8" height="495.8" fill="none" stroke="#000" stroke-width="1.3"/>
</svg>
</body></html>
